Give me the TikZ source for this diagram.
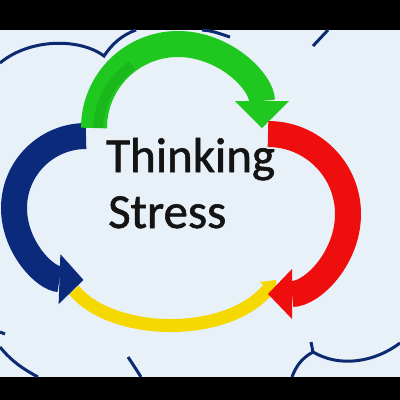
\documentclass[tikz,border=0pt]{standalone}
\usepackage{fontspec}
\setmainfont{Carlito}
\usetikzlibrary{arrows.meta}

\definecolor{bgblue}{HTML}{E8F0F8}
\definecolor{navy}{HTML}{0C2A70}
\definecolor{arrgreen}{HTML}{1EC81E}
\definecolor{arrred}{HTML}{EE0E0E}
\definecolor{arryellow}{HTML}{F4D800}
\definecolor{arrblue}{HTML}{0C2A7C}

\begin{document}
\begin{tikzpicture}[x=1pt, y=-1pt,
  cloud/.style={draw=navy, line width=3pt},
  band/.style={line width=26pt},
  word/.style={anchor=base west, inner sep=0pt, text=black!92,
    font=\fontsize{49}{56}\selectfont\addfontfeature{FakeBold=1.2}}]
  \useasboundingbox (0,0) rectangle (400,400);

  % frame: black bars top and bottom
  \fill[black] (0,0) rectangle (400,30);
  \fill[black] (0,377) rectangle (400,400);
  \fill[bgblue] (0,30) rectangle (400,377);

  % cloud outlines behind the cycle
  \draw[cloud] (0,63) .. controls (30,38) and (80,38) .. (104,56)
               .. controls (112,44) and (122,35) .. (136,30);
  \draw[cloud] (202,30) .. controls (212,31) .. (230,37);
  \draw[cloud] (313,46) .. controls (320,38) .. (328,30);
  \draw[cloud] (0,332) -- (5,334);
  \draw[cloud] (0,347) .. controls (12,362) and (25,370) .. (38,377);
  \draw[cloud] (128,357) .. controls (134,366) .. (141,377);
  \draw[cloud] (311,342) -- (313,352)
               .. controls (340,368) and (375,362) .. (400,343);
  \draw[cloud] (313,352) .. controls (302,358) and (296,366) .. (292,377);

  % yellow: bottom, blue head -> red head
  \draw[arryellow, line width=13pt, -{Triangle[width=22pt, length=12pt, line width=0pt]}]
    (74,290) .. controls (110,335) and (225,340) .. (276,280);

  % blue: left side
  \draw[band, arrblue, -{Triangle[width=50pt, length=24pt, line width=0pt]}]
    (86,136) arc[start angle=270, end angle=92, radius=72];

  % green: top
  \draw[band, arrgreen, -{Triangle[width=54pt, length=27pt, line width=0pt]}]
    (94,128) arc[start angle=180, end angle=360, radius=84];
  \draw[arrgreen!80!black, line width=10pt, opacity=0.4]
    (98,128) arc[start angle=182, end angle=235, radius=80];

  % red: right side
  \draw[band, arrred, -{Triangle[width=50pt, length=24pt, line width=0pt]}]
    (268,134) arc[start angle=270, end angle=450, radius=80];

  % text in the middle
  \node[word] (thinking) at (106,172) {Thinking};
  \node[word] (stress) at (108,228) {Stress};
\end{tikzpicture}
\end{document}
